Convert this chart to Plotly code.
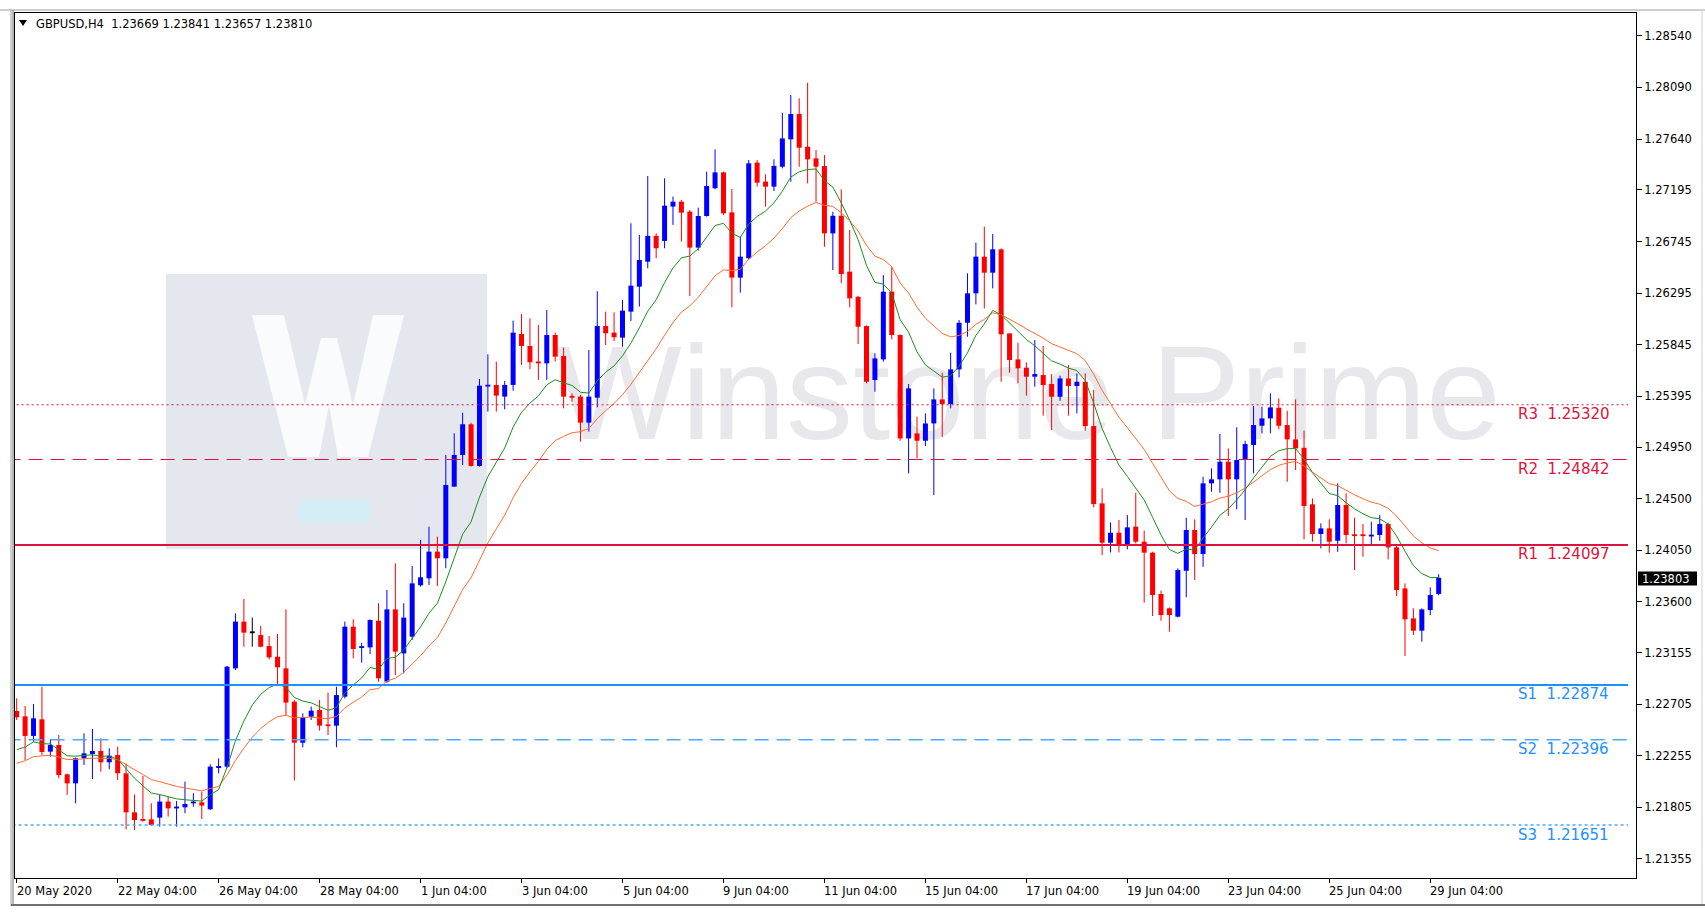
import plotly.graph_objects as go

# ---------------- data ----------------
opens = [1.22647,1.22600,1.22429,1.22574,1.22292,1.22350,1.22094,1.22015,1.22234,1.22272,
 1.22298,1.22199,1.22263,1.22103,1.21762,1.21703,1.21701,1.21716,1.21856,1.21797,
 1.21806,1.21841,1.21850,1.21789,1.22149,1.22161,1.23019,1.23427,1.23334,1.23310,
 1.23214,1.23121,1.23019,1.22728,1.22370,1.22597,1.22656,1.22525,1.22519,1.22772,
 1.23383,1.23202,1.23202,1.23435,1.22903,1.23534,1.23150,1.23296,1.23744,1.23805,
 1.24038,1.23980,1.24605,1.24882,1.25150,1.24786,1.25481,1.25493,1.25391,1.25493,
 1.25938,1.25833,1.25697,1.25682,1.25929,1.25746,1.25397,1.25391,1.25164,1.25382,
 1.26008,1.25950,1.25906,1.26133,1.26351,1.26569,1.26794,1.26750,1.27050,1.27093,
 1.27006,1.26692,1.26968,1.27210,1.27349,1.27000,1.26430,1.26599,1.27434,1.27268,
 1.27224,1.27398,1.27637,1.27858,1.27573,1.27471,1.27404,1.26816,1.26970,1.26482,
 1.26263,1.26007,1.25536,1.25716,1.26307,1.25929,1.25026,1.25070,1.25006,1.25157,
 1.25367,1.25326,1.25629,1.26036,1.26293,1.26613,1.26473,1.26677,1.25943,1.25716,
 1.25644,1.25565,1.25580,1.25501,1.25390,1.25550,1.25484,1.25521,1.25134,1.24459,
 1.24116,1.24203,1.24101,1.24256,1.24125,1.24029,1.23668,1.23543,1.23470,1.23871,
 1.24227,1.24017,1.24634,1.24669,1.24823,1.24669,1.24838,1.24969,1.25137,1.25201,
 1.25294,1.25143,1.25018,1.24945,1.24451,1.24192,1.24241,1.24133,1.24445,1.24189,
 1.24189,1.24174,1.24183,1.24279,1.24075,1.23717,1.23455,1.23348,1.23528,1.23669]
highs = [1.22758,1.22691,1.22708,1.22859,1.22400,1.22437,1.22100,1.22240,1.22452,1.22490,
 1.22408,1.22321,1.22336,1.22190,1.21919,1.22080,1.21841,1.21914,1.21899,1.21861,
 1.22030,1.21928,1.21943,1.22182,1.22233,1.23040,1.23499,1.23625,1.23462,1.23389,
 1.23302,1.23319,1.23534,1.22743,1.22626,1.22685,1.22743,1.22807,1.22859,1.23427,
 1.23447,1.23243,1.23447,1.23587,1.23703,1.23936,1.23587,1.23913,1.24140,1.24256,
 1.24169,1.24882,1.25071,1.25251,1.25164,1.25545,1.25761,1.25697,1.25528,1.26055,
 1.26113,1.26075,1.26017,1.26148,1.25950,1.25819,1.25420,1.25406,1.25798,1.26311,
 1.26133,1.26127,1.26235,1.26904,1.26802,1.27317,1.26817,1.27297,1.27137,1.27108,
 1.27021,1.27041,1.27355,1.27550,1.27355,1.27204,1.26788,1.27457,1.27457,1.27332,
 1.27463,1.27870,1.28024,1.27995,1.28131,1.27544,1.27500,1.27005,1.27200,1.26845,
 1.26269,1.26013,1.25769,1.26452,1.26519,1.25935,1.25501,1.25216,1.25245,1.25463,
 1.25600,1.25775,1.26060,1.26467,1.26735,1.26875,1.26810,1.26685,1.25943,1.25862,
 1.25690,1.25885,1.25833,1.25588,1.25574,1.25667,1.25594,1.25594,1.25450,1.24590,
 1.24293,1.24314,1.24357,1.24552,1.24221,1.24038,1.23697,1.23551,1.23892,1.24334,
 1.24320,1.24692,1.24765,1.25065,1.24939,1.25123,1.25006,1.25309,1.25303,1.25420,
 1.25376,1.25268,1.25367,1.25094,1.24503,1.24285,1.24320,1.24634,1.24547,1.24334,
 1.24279,1.24299,1.24357,1.24291,1.24096,1.23761,1.23543,1.23543,1.23726,1.23841]
lows = [1.22569,1.22219,1.22379,1.22263,1.22248,1.22059,1.21914,1.21841,1.22176,1.22053,
 1.22117,1.22138,1.22045,1.21614,1.21608,1.21681,1.21643,1.21637,1.21725,1.21637,
 1.21754,1.21812,1.21704,1.21783,1.22103,1.22150,1.23005,1.23208,1.23208,1.23203,
 1.23098,1.22874,1.22612,1.22039,1.22330,1.22568,1.22475,1.22437,1.22330,1.22757,
 1.23107,1.23069,1.23144,1.22903,1.22894,1.22960,1.22976,1.23267,1.23732,1.23747,
 1.23738,1.23893,1.24605,1.24795,1.24780,1.24780,1.25260,1.25260,1.25280,1.25443,
 1.25668,1.25630,1.25537,1.25537,1.25697,1.25289,1.25347,1.24998,1.25086,1.25298,
 1.25842,1.25877,1.25827,1.26052,1.26177,1.26511,1.26599,1.26686,1.26890,1.26744,
 1.26270,1.26666,1.26962,1.27201,1.26977,1.26171,1.26299,1.26590,1.27224,1.27050,
 1.27186,1.27384,1.27267,1.27398,1.27253,1.27093,1.26700,1.26496,1.26380,1.26170,
 1.25850,1.25507,1.25434,1.25696,1.25891,1.25006,1.24721,1.24852,1.24960,1.24532,
 1.25041,1.25289,1.25559,1.25914,1.26196,1.26162,1.26336,1.25521,1.25600,1.25507,
 1.25399,1.25478,1.25225,1.25099,1.25355,1.25225,1.25245,1.25094,1.24424,1.24008,
 1.24031,1.24031,1.24058,1.24110,1.23592,1.23476,1.23435,1.23339,1.23464,1.23639,
 1.23790,1.23906,1.24561,1.24552,1.24349,1.24407,1.24314,1.24721,1.25070,1.25070,
 1.25105,1.24648,1.24750,1.24145,1.24125,1.24066,1.24029,1.24037,1.24110,1.23877,
 1.23994,1.24104,1.24133,1.23970,1.23650,1.23127,1.23310,1.23252,1.23484,1.23657]
closes = [1.22592,1.22429,1.22583,1.22289,1.22350,1.22088,1.22015,1.22234,1.22277,1.22298,
 1.22199,1.22257,1.22103,1.21762,1.21695,1.21689,1.21652,1.21856,1.21797,1.21812,
 1.21835,1.21856,1.21821,1.22161,1.22167,1.23034,1.23427,1.23331,1.23334,1.23208,
 1.23115,1.23028,1.22720,1.22370,1.22589,1.22650,1.22519,1.22519,1.22786,1.23383,
 1.23188,1.23208,1.23441,1.22932,1.23534,1.23165,1.23462,1.23761,1.23814,1.24038,
 1.23980,1.24620,1.24882,1.25150,1.24786,1.25487,1.25493,1.25400,1.25493,1.25950,
 1.25833,1.25691,1.25682,1.25929,1.25740,1.25391,1.25382,1.25164,1.25391,1.26008,
 1.25944,1.25909,1.26142,1.26360,1.26584,1.26794,1.26686,1.27058,1.27093,1.26997,
 1.26692,1.26968,1.27230,1.27349,1.26991,1.26430,1.26613,1.27428,1.27259,1.27224,
 1.27405,1.27645,1.27858,1.27564,1.27462,1.27398,1.26816,1.26970,1.26461,1.26249,
 1.26001,1.25521,1.25725,1.26307,1.25929,1.25026,1.25463,1.25006,1.25157,1.25367,
 1.25326,1.25629,1.26036,1.26293,1.26613,1.26473,1.26677,1.25935,1.25711,1.25638,
 1.25565,1.25588,1.25492,1.25390,1.25550,1.25484,1.25521,1.25134,1.24453,1.24116,
 1.24203,1.24101,1.24250,1.24125,1.24029,1.23659,1.23484,1.23484,1.23877,1.24227,
 1.24017,1.24634,1.24669,1.24823,1.24669,1.24838,1.24977,1.25143,1.25201,1.25297,
 1.25137,1.25018,1.24939,1.24436,1.24192,1.24241,1.24125,1.24445,1.24183,1.24174,
 1.24174,1.24183,1.24279,1.24075,1.23703,1.23447,1.23348,1.23534,1.23659,1.23810]

# moving averages: starting values, periods of the indicators
ema_fast_period = 10
ema_slow_period = 20
ema_fast_start = 1.2231
ema_slow_start = 1.2219

tick_index = [0, 12, 24, 36, 48, 60, 72, 84, 96, 108, 120, 132, 144, 156, 168]
tick_labels = ["20 May 2020", "22 May 04:00", "26 May 04:00", "28 May 04:00", "1 Jun 04:00",
               "3 Jun 04:00", "5 Jun 04:00", "9 Jun 04:00", "11 Jun 04:00", "15 Jun 04:00",
               "17 Jun 04:00", "19 Jun 04:00", "23 Jun 04:00", "25 Jun 04:00", "29 Jun 04:00"]
price_ticks = [1.28540, 1.28090, 1.27640, 1.27195, 1.26745, 1.26295, 1.25845, 1.25395, 1.24950,
               1.24500, 1.24050, 1.23600, 1.23155, 1.22705, 1.22255, 1.21805, 1.21355]

level_names = ["R3", "R2", "R1", "S1", "S2", "S3"]
level_values = [1.25320, 1.24842, 1.24097, 1.22874, 1.22396, 1.21651]

title_text = "GBPUSD,H4\u00a0\u00a01.23669 1.23841 1.23657 1.23810"
current_price = 1.23803
watermark_text = "Winstone Prime"

# ---------------- geometry ----------------
W, H = 1705, 918
L_PX, R_PX, T_PX, B_PX = 15, 1636, 13, 878
X0_PX, STEP_PX = 16.7, 8.414
XMIN = (L_PX - X0_PX) / STEP_PX
XMAX = (R_PX - X0_PX) / STEP_PX
YMAX, YMIN = 1.28740, 1.21189


def px_x(px):
    return (px - L_PX) / (R_PX - L_PX)


def px_y(py):
    return (B_PX - py) / (B_PX - T_PX)


def price_py(p):
    return T_PX + (YMAX - p) / (YMAX - YMIN) * (B_PX - T_PX)


def idx_of_px(px):
    return (px - X0_PX) / STEP_PX


FONT = "DejaVu Sans"
BLUE, RED, BLACK = "#0000FF", "#FF0000", "#000000"
R_COLOR = "#DC143C"
S_COLOR = "#1E90FF"
S_LIGHT = "#4AA8FF"

n = len(closes)
idx = list(range(n))


def ema(vals, period, start):
    a = 2.0 / (period + 1)
    out = [start]
    for v in vals[1:]:
        out.append(out[-1] + a * (v - out[-1]))
    return out


ema_fast = ema(closes, ema_fast_period, ema_fast_start)
ema_slow = ema(closes, ema_slow_period, ema_slow_start)

fig = go.Figure()

# watermark text (drawn first -> under candles)
fig.add_trace(go.Scatter(
    x=[idx_of_px(1028)], y=[1.25318], mode="text", text=[watermark_text],
    textfont=dict(family="Liberation Sans", size=134, color="#E8E8EC"),
    hoverinfo="skip", showlegend=False))

MIN_BODY = 0.00016
groups = {BLUE: [], RED: [], BLACK: []}
for i in idx:
    o, c = opens[i], closes[i]
    col = BLUE if c > o else (RED if c < o else BLACK)
    groups[col].append(i)

for col, members in groups.items():
    wx, wy, bx, by = [], [], [], []
    for i in members:
        wx += [i, i, None]
        wy += [lows[i], highs[i], None]
        top, bot = max(opens[i], closes[i]), min(opens[i], closes[i])
        if top - bot < MIN_BODY:
            mid = (top + bot) / 2
            top, bot = mid + MIN_BODY / 2, mid - MIN_BODY / 2
        bx += [i, i, None]
        by += [bot, top, None]
    fig.add_trace(go.Scatter(x=wx, y=wy, mode="lines", line=dict(color=col, width=1),
                             hoverinfo="skip", showlegend=False))
    fig.add_trace(go.Scatter(x=bx, y=by, mode="lines", line=dict(color=col, width=5),
                             hoverinfo="skip", showlegend=False))

fig.add_trace(go.Scatter(x=idx, y=ema_slow, mode="lines", line=dict(color="#FF6A30", width=1),
                         hoverinfo="skip", showlegend=False))
fig.add_trace(go.Scatter(x=idx, y=ema_fast, mode="lines", line=dict(color="#1E8C1E", width=1),
                         hoverinfo="skip", showlegend=False))

shapes = []
# watermark logo box
shapes.append(dict(type="rect", xref="paper", yref="paper", layer="below",
                   x0=px_x(166), x1=px_x(487), y0=px_y(549), y1=px_y(274),
                   fillcolor="#E4E7EE", line=dict(width=0)))
wpts = [(252, 315), (284, 315), (305, 405), (321, 338), (337, 338), (353, 405), (373, 315),
        (404, 315), (368, 457), (338, 457), (329, 405), (319, 457), (288, 457)]
wpath = "M " + " L ".join(f"{px_x(a):.5f},{px_y(b):.5f}" for a, b in wpts) + " Z"
shapes.append(dict(type="path", xref="paper", yref="paper", layer="below", path=wpath,
                   fillcolor="#FAFBFC", line=dict(width=0)))
shapes.append(dict(type="rect", xref="paper", yref="paper", layer="below",
                   x0=px_x(299), x1=px_x(370), y0=px_y(522), y1=px_y(500),
                   fillcolor="#D3EEF6", line=dict(width=0)))

# support / resistance lines
styles = {
    "R3": dict(color=R_COLOR, width=1, dash="2px,3px"),
    "R2": dict(color=R_COLOR, width=1, dash="14px,8px"),
    "R1": dict(color=R_COLOR, width=2, dash="solid"),
    "S1": dict(color=S_COLOR, width=2, dash="solid"),
    "S2": dict(color=S_LIGHT, width=1.5, dash="14px,8px"),
    "S3": dict(color=S_LIGHT, width=1.5, dash="3px,3px"),
}
x_line_end = idx_of_px(1628)
for name, val in zip(level_names, level_values):
    shapes.append(dict(type="line", xref="x", yref="y", layer="above",
                       x0=XMIN - 1, x1=x_line_end, y0=val, y1=val, line=styles[name]))

# title triangle
tri = [(19, 20), (27, 20), (23, 26)]
shapes.append(dict(type="path", xref="paper", yref="paper",
                   path="M " + " L ".join(f"{px_x(a):.5f},{px_y(b):.5f}" for a, b in tri) + " Z",
                   fillcolor="black", line=dict(width=0)))

# current price box
cy = price_py(current_price)
shapes.append(dict(type="rect", xref="paper", yref="paper",
                   x0=px_x(1638), x1=px_x(1697), y0=px_y(cy + 7), y1=px_y(cy - 7),
                   fillcolor="black", line=dict(width=0)))

# window frame
shapes.append(dict(type="line", xref="paper", yref="paper", x0=px_x(0), x1=px_x(1705),
                   y0=px_y(10), y1=px_y(10), line=dict(color="#A0A0A0", width=1)))
shapes.append(dict(type="line", xref="paper", yref="paper", x0=px_x(11), x1=px_x(11),
                   y0=px_y(10), y1=px_y(906), line=dict(color="#A0A0A0", width=1)))
shapes.append(dict(type="line", xref="paper", yref="paper", x0=px_x(13), x1=px_x(13),
                   y0=px_y(10), y1=px_y(906), line=dict(color="#6E6E6E", width=1)))
shapes.append(dict(type="line", xref="paper", yref="paper", x0=px_x(11), x1=px_x(1705),
                   y0=px_y(905), y1=px_y(905), line=dict(color="#6E6E6E", width=2)))
shapes.append(dict(type="line", xref="paper", yref="paper", x0=px_x(1702), x1=px_x(1702),
                   y0=px_y(10), y1=px_y(904), line=dict(color="#D0D0D0", width=1)))

annotations = []
annotations.append(dict(xref="paper", yref="paper", x=px_x(34), y=px_y(24),
                        xanchor="left", yanchor="middle", showarrow=False, text=title_text,
                        font=dict(family=FONT, size=11.5, color="black")))
for ti, tl in zip(tick_index, tick_labels):
    annotations.append(dict(xref="x", yref="paper", x=ti, y=px_y(891), xanchor="left",
                            yanchor="middle", showarrow=False, text=tl, xshift=-2,
                            font=dict(family=FONT, size=11.5, color="black")))
for name, val in zip(level_names, level_values):
    col = R_COLOR if name.startswith("R") else S_COLOR
    annotations.append(dict(xref="paper", yref="y", x=px_x(1516), y=val, yshift=-9.5,
                            xanchor="left", yanchor="middle", showarrow=False,
                            text=f"{name}\u00a0\u00a0{val:.5f}",
                            font=dict(family=FONT, size=15, color=col)))
annotations.append(dict(xref="paper", yref="paper", x=px_x(1640), y=px_y(cy),
                        xanchor="left", yanchor="middle", showarrow=False,
                        text=f"{current_price:.5f}",
                        font=dict(family=FONT, size=11.5, color="white")))

fig.update_layout(
    width=W, height=H,
    margin=dict(l=L_PX, r=W - R_PX, t=T_PX, b=H - B_PX, pad=0),
    paper_bgcolor="white", plot_bgcolor="white",
    showlegend=False, shapes=shapes, annotations=annotations,
    xaxis=dict(range=[XMIN, XMAX], showgrid=False, zeroline=False,
               tickmode="array", tickvals=tick_index, ticktext=[""] * len(tick_index),
               showticklabels=False, ticks="outside", ticklen=4, tickcolor="black",
               showline=True, mirror=True, linecolor="black", linewidth=1),
    yaxis=dict(range=[YMIN, YMAX], side="right", showgrid=False, zeroline=False,
               tickmode="array", tickvals=price_ticks,
               ticktext=[f"{v:.5f}" for v in price_ticks],
               ticks="outside", ticklen=5, tickcolor="black",
               tickfont=dict(family=FONT, size=11.5, color="black"),
               showline=True, mirror=True, linecolor="black", linewidth=1),
    hovermode=False,
)

fig.write_html("out.html",
               config={"displayModeBar": False, "staticPlot": True},
               post_script="document.body.style.margin='0px';document.body.style.padding='0px';"
                           "document.body.style.overflow='hidden';")
